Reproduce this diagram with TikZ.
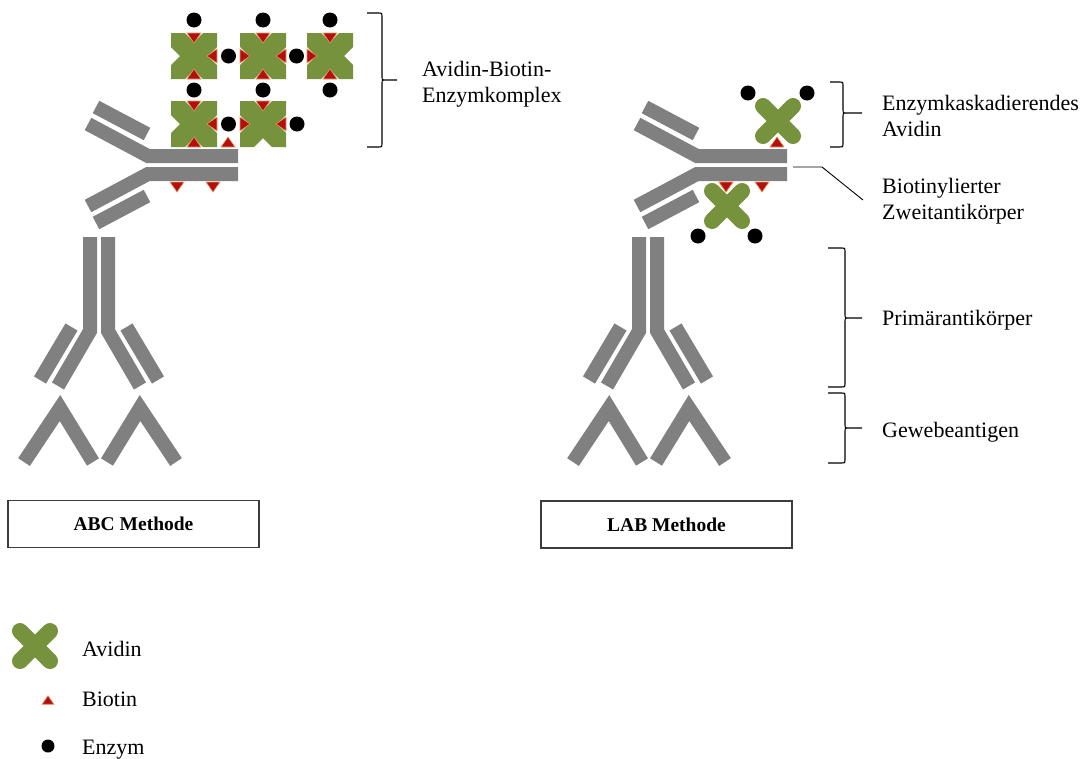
\documentclass[tikz,border=0pt]{standalone}
\usepackage{fontspec}
\setmainfont{Liberation Serif}
\newfontfamily\labfont{Liberation Serif}
\definecolor{abgray}{RGB}{128,128,128}
\definecolor{avgreen}{RGB}{118,146,60}
\definecolor{btred}{RGB}{178,16,16}
\definecolor{btedge}{RGB}{236,150,90}
\definecolor{boxgray}{RGB}{60,60,60}

% one antibody pair: primary antibody on two antigens, secondary antibody on top
\newcommand\drawIgGpair{%
  % primary antibody: heavy chains
  \draw[chain] (90,237) -- (90,331) -- (58,386);
  \draw[chain] (108,237) -- (108,331) -- (140,386);
  % primary antibody: light chains
  \draw[chain] (71.5,327) -- (40,380);
  \draw[chain] (126.5,327) -- (158,380);
  % tissue antigens
  \draw[chain] (24,462) -- (60,408) -- (93,462);
  \draw[chain] (107,462) -- (140,408) -- (176,462);
  % secondary antibody: heavy chains
  \draw[chain] (238,156) -- (148,156) -- (88,124);
  \draw[chain] (238,174) -- (148,174) -- (88,206);
  % secondary antibody: light chains
  \draw[chain] (147,134) -- (96,107);
  \draw[chain] (147,196) -- (96,223);
}

% curly bracket: #1 left end x, #2 spine x, #3 top y, #4 bottom y, #5 middle y, #6 tip x
\newcommand\drawbracket[6]{%
  \draw[brace] (#1,#3) -- (#2-3,#3) .. controls (#2,#3) .. (#2,#3+3)
    -- (#2,#5-4) .. controls (#2,#5) .. (#2+4,#5) -- (#6,#5)
    (#2+4,#5) .. controls (#2,#5) .. (#2,#5+4)
    -- (#2,#4-3) .. controls (#2,#4) .. (#2-3,#4) -- (#1,#4);
}

\begin{document}
\begin{tikzpicture}[x=1pt,y=-1pt,
  chain/.style={draw=abgray, line width=14pt, line join=miter, line cap=butt},
  brace/.style={draw=black, line width=1.1pt},
  enzyme/.style={circle, fill=black, inner sep=0pt, minimum size=15pt},
  lbl/.style={font=\labfont\fontsize{22}{26}\selectfont, anchor=base west, align=left, inner sep=0pt},
  methodbox/.style={draw=boxgray, line width=1.5pt, minimum width=251pt, minimum height=47pt,
    inner sep=0pt, font=\labfont\bfseries\fontsize{19.5}{22}\selectfont},
  avsq/.pic={\fill[avgreen] (-23,-23) -- (-9,-23) -- (0,-14) -- (9,-23) -- (23,-23)
      -- (23,-9) -- (14,0) -- (23,9) -- (23,23) -- (9,23) -- (0,14) -- (-9,23)
      -- (-23,23) -- (-23,9) -- (-14,0) -- (-23,-9) -- cycle;},
  avx/.pic={\draw[avgreen, line width=16pt, line cap=round]
      (-15,-15) -- (15,15) (-15,15) -- (15,-15);},
  bioD/.pic={\filldraw[fill=btred, draw=btedge, line width=0.6pt] (-7,-5) -- (7,-5) -- (0,5) -- cycle;},
  bioU/.pic={\filldraw[fill=btred, draw=btedge, line width=0.6pt] (-7,5) -- (7,5) -- (0,-5) -- cycle;},
  bioL/.pic={\filldraw[fill=btred, draw=btedge, line width=0.6pt] (5,-7) -- (5,7) -- (-5,0) -- cycle;},
  bioR/.pic={\filldraw[fill=btred, draw=btedge, line width=0.6pt] (-5,-7) -- (-5,7) -- (5,0) -- cycle;}
]
\path[use as bounding box, fill=white] (0,0) rectangle (1092,758);

% ---------------- ABC method ----------------
\drawIgGpair
\pic at (177,187) {bioD};
\pic at (213,187) {bioD};
\pic at (228,142) {bioU};

% avidin-biotin-enzyme complex
\pic at (194,56) {avsq};
\pic at (263,56) {avsq};
\pic at (330,56) {avsq};
\pic at (194,124) {avsq};
\pic at (263,124) {avsq};
% biotins sitting in the avidin notches
\pic at (194,38) {bioD};  \pic at (212,56) {bioL};  \pic at (194,74) {bioU};
\pic at (263,38) {bioD};  \pic at (245,56) {bioR};  \pic at (281,56) {bioL};  \pic at (263,74) {bioU};
\pic at (330,38) {bioD};  \pic at (312,56) {bioR};  \pic at (330,74) {bioU};
\pic at (194,106) {bioD}; \pic at (212,124) {bioL}; \pic at (194,142) {bioU};
\pic at (263,106) {bioD}; \pic at (245,124) {bioR}; \pic at (281,124) {bioL};
% enzymes
\node[enzyme] (e1) at (194,20) {};
\node[enzyme] (e2) at (263,20) {};
\node[enzyme] (e3) at (330,20) {};
\node[enzyme] (e4) at (228.5,56) {};
\node[enzyme] (e5) at (296.5,56) {};
\node[enzyme] (e6) at (194,90) {};
\node[enzyme] (e7) at (263,90) {};
\node[enzyme] (e8) at (330,90) {};
\node[enzyme] (e9) at (228.5,124) {};
\node[enzyme] (e10) at (297,124) {};

\drawbracket{367}{382}{13}{147}{80}{397}
\node[lbl] (abclabel) at (422,102) {Avidin-Biotin-\\Enzymkomplex};

\node[methodbox] (abcbox) at (133.5,524) {ABC Methode};

% ---------------- LAB method ----------------
\begin{scope}[shift={(549,0)}]
  \drawIgGpair
\end{scope}
\pic at (726,187) {bioD};
\pic at (762,187) {bioD};
% labelled avidin above the secondary antibody
\pic at (778,121) {avx};
\pic at (777,142) {bioU};
\node[enzyme] (l1) at (748,93) {};
\node[enzyme] (l2) at (807,93) {};
% labelled avidin below the secondary antibody
\pic at (727,206) {avx};
\pic at (726,187) {bioD};
\node[enzyme] (l3) at (698,236) {};
\node[enzyme] (l4) at (755,236) {};

\node[methodbox] (labbox) at (666.5,524.5) {LAB Methode};

% annotations
\drawbracket{830}{843}{82}{147}{113}{862}
\node[lbl] (lab1) at (882,136) {Enzymkaskadierendes\\Avidin};

\coordinate (zweitEnd) at (793,167);
\coordinate (zweitBend) at (822,167);
\node[lbl] (lab2) at (882,219) {Biotinylierter\\Zweitantikörper};
\draw[line width=0.9pt] (zweitEnd) -- (zweitBend) -- (863,200);

\drawbracket{828}{845}{248}{387}{318}{862}
\node[lbl] (lab3) at (882,325) {Primärantikörper};

\drawbracket{828}{845}{393}{463}{428}{862}
\node[lbl] (lab4) at (882,437) {Gewebeantigen};

% ---------------- legend ----------------
\pic at (35,646) {avx};
\node[lbl] (legav) at (82,656) {Avidin};
\pic[scale=0.85] at (48,700) {bioU};
\node[lbl] (legbio) at (82,706) {Biotin};
\node[enzyme, minimum size=13pt] (legenz) at (48,746) {};
\node[lbl] (legenzt) at (82,754) {Enzym};
\end{tikzpicture}
\end{document}
